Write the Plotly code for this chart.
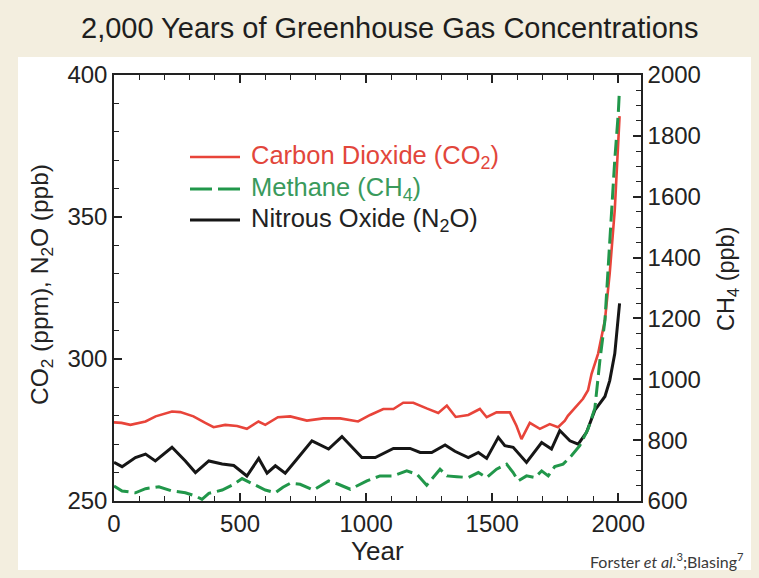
import plotly.graph_objects as go

# Carbon dioxide (ppm), left axis
co2_year = [0, 30, 65, 125, 165, 230, 263, 315, 362, 395, 441, 488, 527, 573, 600, 650,
            699, 765, 830, 897, 968, 1016, 1068, 1108, 1147, 1187, 1240, 1286, 1320, 1355,
            1405, 1451, 1478, 1517, 1570, 1596, 1616, 1649, 1689, 1728, 1761, 1788, 1800,
            1830, 1860, 1880, 1894, 1920, 1947, 1966, 1986, 2005]
co2_ppm = [277.7, 277.5, 276.8, 278.0, 279.8, 281.5, 281.3, 279.8, 277.5, 276.0, 276.8, 276.4,
           275.4, 278.0, 276.8, 279.5, 279.8, 278.3, 279.1, 279.1, 278.0, 280.3, 282.4, 282.4,
           284.6, 284.6, 282.6, 281.0, 283.6, 279.6, 280.3, 282.4, 279.5, 281.2, 281.2, 276.5,
           271.8, 277.5, 275.4, 277.1, 276.0, 278.3, 280.0, 283.0, 286.0, 289.0, 294.8, 301.9,
           313.7, 330.2, 352.6, 385.5]

# Nitrous oxide (ppb), left axis
n2o_year = [0, 32, 85, 125, 164, 230, 283, 323, 376, 429, 475, 527, 574, 607, 640, 679,
            725, 785, 851, 904, 983, 1036, 1108, 1174, 1214, 1260, 1313, 1352, 1405, 1445,
            1478, 1524, 1550, 1583, 1636, 1696, 1735, 1768, 1808, 1841, 1874, 1907, 1947,
            1966, 1986, 2005]
n2o_ppb = [263.6, 262.1, 265.3, 266.5, 264.1, 268.9, 264.1, 260.0, 264.1, 263.0, 262.5, 258.8,
           265.0, 259.8, 262.4, 259.8, 264.7, 271.2, 268.3, 272.7, 265.3, 265.3, 268.5, 268.5,
           267.1, 267.1, 269.7, 267.5, 265.3, 267.1, 265.0, 272.4, 269.5, 268.9, 263.6, 270.6,
           268.3, 274.8, 271.2, 270.0, 274.2, 282.0, 286.8, 292.4, 301.9, 319.6]

# Methane (ppb), right axis
ch4_year = [0, 32, 85, 125, 178, 230, 283, 323, 349, 376, 429, 475, 508, 554, 600, 640,
            670, 699, 738, 791, 851, 890, 937, 1003, 1055, 1108, 1161, 1201, 1240, 1293,
            1320, 1360, 1405, 1445, 1478, 1517, 1557, 1583, 1603, 1636, 1669, 1696, 1722,
            1748, 1781, 1814, 1847, 1880, 1907, 1927, 1947, 1960, 1973, 1986, 2000, 2004]
ch4_ppb = [649.5, 633, 627, 640.6, 647, 633, 627, 616.5, 605.5, 625, 636, 655, 673.7, 655,
           636, 627, 645, 658.4, 655, 636, 666, 655, 638.6, 666, 682.5, 682.5, 699, 688,
           651.7, 704.6, 682.5, 680, 677, 693.5, 677, 704.6, 721, 693.5, 666, 682.5, 677,
           699, 682.5, 713, 721, 748.5, 781.5, 836.6, 905, 1062, 1194, 1370, 1557, 1722,
           1876, 1942]

x_ticks = [0, 500, 1000, 1500, 2000]
left_ticks = [250, 300, 350, 400]
right_ticks = [600, 800, 1000, 1200, 1400, 1600, 1800, 2000]

series_names = ["Carbon Dioxide (CO<sub>2</sub>)", "Methane (CH<sub>4</sub>)",
                "Nitrous Oxide (N<sub>2</sub>O)"]

W, H = 759, 578
L, R, T, B = 114, 118, 75, 77
PW, PH = W - L - R, H - T - B


def px(xp):
    return (xp - L) / PW


def py(yp):
    return (H - B - yp) / PH


RED = "#e8443a"
GREEN = "#21974a"
BLACK = "#161616"
FONT = "Liberation Sans, Arial, sans-serif"

fig = go.Figure()
fig.add_trace(go.Scatter(x=co2_year, y=co2_ppm, mode="lines", name=series_names[0],
                         line=dict(color=RED, width=2.6)))
fig.add_trace(go.Scatter(x=n2o_year, y=n2o_ppb, mode="lines", name=series_names[2],
                         line=dict(color=BLACK, width=3)))
fig.add_trace(go.Scatter(x=ch4_year, y=ch4_ppb, mode="lines", yaxis="y2", name=series_names[1],
                         line=dict(color=GREEN, width=3, dash="16px,6px")))

axis_common = dict(showline=True, linecolor="#222", linewidth=1.5, ticks="inside",
                   tickcolor="#222", tickwidth=1.5, ticklen=8, showgrid=False, zeroline=False,
                   tickfont=dict(family=FONT, size=24, color="#222"))
minor_common = dict(ticks="inside", ticklen=5, tickcolor="#222", tickwidth=1.3)

# hand-placed key: sample line + coloured label per series
key_rows = [(157, RED, "solid", 2.6, "#e2463b"),
            (189, GREEN, "22px,6px", 3, "#3a9a5c"),
            (220, BLACK, "solid", 3, "#222222")]
shapes = [dict(type="rect", xref="paper", yref="paper", x0=px(18), x1=px(751),
               y0=py(570), y1=py(57), fillcolor="white", line=dict(width=0), layer="below")]
annotations = []
for (yk, col, dash, lw, tcol), label in zip(key_rows, series_names):
    shapes.append(dict(type="line", xref="paper", yref="paper", x0=px(190), x1=px(240),
                       y0=py(yk), y1=py(yk), line=dict(color=col, width=lw, dash=dash)))
    annotations.append(dict(text=label, x=px(249), y=py(yk), xref="paper", yref="paper",
                            xanchor="left", yanchor="middle", showarrow=False,
                            font=dict(family=FONT, size=25.5, color=tcol)))

annotations += [
    dict(text="2,000 Years of Greenhouse Gas Concentrations", x=px(389), y=py(28),
         xref="paper", yref="paper", xanchor="center", yanchor="middle", showarrow=False,
         font=dict(family=FONT, size=29, color="#1e1e1e")),
    dict(text="Year", x=px(377), y=py(551), xref="paper", yref="paper", xanchor="center",
         yanchor="middle", showarrow=False, font=dict(family=FONT, size=26, color="#222")),
    dict(text="CO<sub>2</sub> (ppm), N<sub>2</sub>O (ppb)", x=px(41), y=py(285),
         xref="paper", yref="paper", xanchor="center", yanchor="middle", showarrow=False,
         textangle=-90, font=dict(family=FONT, size=24.5, color="#222")),
    dict(text="CH<sub>4</sub> (ppb)", x=px(727), y=py(279), xref="paper", yref="paper",
         xanchor="center", yanchor="middle", showarrow=False, textangle=-90,
         font=dict(family=FONT, size=23.5, color="#222")),
    dict(text="Forster <i>et al.</i><sup>3</sup>;Blasing<sup>7</sup>", x=px(746), y=py(560),
         xref="paper", yref="paper", xanchor="right", yanchor="middle", showarrow=False,
         font=dict(family="Lato, Open Sans, sans-serif", size=16, color="#3a3a3a")),
]

fig.update_layout(
    width=W, height=H,
    margin=dict(l=L, r=R, t=T, b=B),
    paper_bgcolor="#f3eedf",
    plot_bgcolor="white",
    showlegend=False,
    xaxis=dict(range=[0, 2090], tickvals=x_ticks, mirror="ticks",
               minor=dict(dtick=100, **minor_common), **axis_common),
    yaxis=dict(range=[250, 400], tickvals=left_ticks,
               minor=dict(dtick=10, **minor_common), **axis_common),
    yaxis2=dict(range=[600, 2000], tickvals=right_ticks, overlaying="y", side="right",
                minor=dict(dtick=50, **minor_common), **axis_common),
    shapes=shapes,
    annotations=annotations,
)

fig.write_html("out.html")
